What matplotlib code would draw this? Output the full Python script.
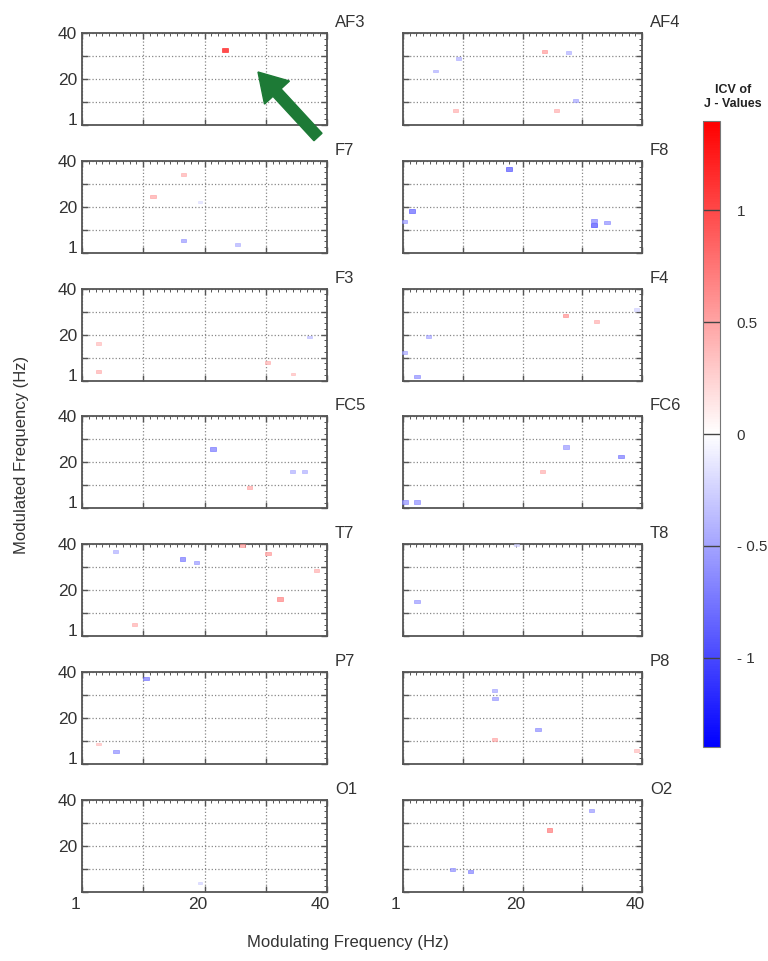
import numpy as np
import matplotlib
matplotlib.use('Agg')
import matplotlib.pyplot as plt
from matplotlib import colors, cm
from matplotlib.patches import FancyArrow
from matplotlib.transforms import ScaledTranslation, IdentityTransform

plt.rcParams['font.family'] = ['Liberation Sans', 'DejaVu Sans']

# channel layout: left column / right column, top to bottom
left_names = ['AF3', 'F7', 'F3', 'FC5', 'T7', 'P7', 'O1']
right_names = ['AF4', 'F8', 'F4', 'FC6', 'T8', 'P8', 'O2']

# marks per channel: (modulating freq, modulated freq, ICV of J-value)
AF3 = [(23.8, 32.7, 1.15)]
AF4 = [(10.1, 29.1, -0.35), (6.3, 23.9, -0.35), (24.1, 32.3, 0.45), (28.0, 31.6, -0.35),
       (9.5, 7.0, 0.35), (26.1, 7.0, 0.35), (29.1, 11.2, -0.4)]
F7 = [(17.1, 34.3, 0.35), (12.3, 24.8, 0.4), (19.8, 22.5, -0.15), (17.1, 6.3, -0.45), (25.7, 4.5, -0.35)]
F8 = [(18.3, 36.5, -0.75), (2.4, 18.8, -0.7), (1.3, 14.1, -0.45), (32.2, 14.8, -0.55),
      (32.2, 12.9, -0.8), (34.3, 13.9, -0.5)]
F3 = [(3.6, 16.7, 0.3), (3.6, 4.7, 0.35), (30.5, 8.8, 0.35), (34.6, 3.8, 0.3), (37.2, 19.5, -0.3)]
F4 = [(27.5, 28.6, 0.5), (32.5, 26.2, 0.35), (5.1, 19.5, -0.4), (1.3, 13.0, -0.4),
      (3.3, 2.8, -0.5), (39.1, 31.1, -0.2)]
FC5 = [(21.9, 26.2, -0.6), (27.6, 10.0, 0.4), (34.5, 16.5, -0.35), (36.4, 16.5, -0.35)]
FC6 = [(27.6, 27.0, -0.45), (36.6, 23.1, -0.6), (23.8, 16.5, 0.35), (1.3, 3.7, -0.5), (3.3, 3.7, -0.5)]
T7 = [(6.4, 36.9, -0.35), (17.0, 33.7, -0.6), (19.2, 32.2, -0.45), (26.6, 39.3, 0.45),
      (30.6, 36.1, 0.45), (38.3, 28.7, 0.35), (32.5, 16.8, 0.55), (9.3, 5.8, 0.35)]
T8 = [(3.3, 15.6, -0.45), (19.5, 39.6, -0.2)]
P7 = [(11.2, 37.2, -0.6), (3.6, 9.5, 0.3), (6.4, 6.4, -0.5)]
P8 = [(16.0, 32.1, -0.4), (16.0, 28.6, -0.45), (23.0, 15.5, -0.5), (16.0, 11.3, 0.4), (39.1, 6.7, 0.3)]
O1 = [(19.8, 4.8, -0.2)]
O2 = [(24.9, 27.2, 0.6), (31.8, 35.3, -0.45), (9.1, 10.5, -0.5), (12.0, 9.5, -0.55)]

marks = {'AF3': AF3, 'AF4': AF4, 'F7': F7, 'F8': F8, 'F3': F3, 'F4': F4, 'FC5': FC5,
         'FC6': FC6, 'T7': T7, 'T8': T8, 'P7': P7, 'P8': P8, 'O1': O1, 'O2': O2}

cbar_ticks = [-1, -0.5, 0, 0.5, 1]
cbar_labels = ['- 1', '- 0.5', '0', '0.5', '1']
freq_ticks = ['1', '', '20', '', '40']

W, H = 768, 961
fig = plt.figure(figsize=(W / 100, H / 100), dpi=100)

def add_ax(px_left, px_top, pw, ph):
    return fig.add_axes([px_left / W, 1 - (px_top + ph) / H, pw / W, ph / H])

cmap = plt.get_cmap('bwr')
norm = colors.Normalize(vmin=-1.4, vmax=1.4)
rect = [(-1, -0.6), (1, -0.6), (1, 0.6), (-1, 0.6), (-1, -0.6)]
txt_col = '#333333'

col_left = [82, 403]
col_w = [245, 239]
row_h = 92
major = np.linspace(1, 40, 5)

for c, names in enumerate([left_names, right_names]):
    for r, name in enumerate(names):
        top = 33 + 127.8 * r
        ax = add_ax(col_left[c], top, col_w[c], row_h)
        ax.set_xlim(1, 40)
        ax.set_ylim(1, 40)
        ax.set_xticks(major)
        ax.set_yticks(major)
        ax.set_xticks(np.linspace(1, 40, 37), minor=True)
        ax.set_yticks(np.linspace(1, 40, 17), minor=True)
        ax.grid(True, which='major', linestyle=':', color='#888888', lw=0.9)
        ax.tick_params(which='both', direction='in', top=True, right=True,
                       color='#555555', labelcolor=txt_col, labelsize=12.5)
        ax.tick_params(which='major', length=4, width=1)
        ax.tick_params(which='minor', length=2, width=0.7, bottom=False, left=False)
        for s in ax.spines.values():
            s.set_color('#555555')
            s.set_linewidth(1.3)

        # y labels only on the left column
        if c == 0:
            ylabs = list(freq_ticks)
            if r == 6:
                ylabs[0] = ''
            ax.set_yticklabels(ylabs)
            lab1 = ax.get_yticklabels()[0]
            lab1.set_transform(lab1.get_transform() + ScaledTranslation(0, 6 / 100, fig.dpi_scale_trans))
        else:
            ax.set_yticklabels([])
        if r == 6:
            ax.set_xticklabels(freq_ticks)
            for lab in ax.get_xticklabels():
                lab.set_transform(lab.get_transform() + ScaledTranslation(-7 / 100, 0, fig.dpi_scale_trans))
        else:
            ax.set_xticklabels([])

        pts = np.array(marks[name])
        xs, ys, vs = pts[:, 0], pts[:, 1], pts[:, 2]
        edge = cmap(norm(np.clip(vs * 1.5, -1.4, 1.4)))
        ax.scatter(xs, ys, c=vs, cmap=cmap, norm=norm, marker=rect,
                   s=7 + 16 * np.abs(vs), edgecolors=edge, linewidths=0.4,
                   alpha=0.85, zorder=3, clip_on=False)

        fig.text((col_left[c] + col_w[c] + 8) / W, 1 - (top - 3) / H, name,
                 ha='left', va='bottom', fontsize=12, color=txt_col)

# colorbar
cax = add_ax(703, 121, 17, 626)
sm = cm.ScalarMappable(norm=norm, cmap=cmap)
cb = fig.colorbar(sm, cax=cax, ticks=cbar_ticks)
cb.ax.set_yticklabels(cbar_labels)
cb.ax.tick_params(length=0, pad=12, labelsize=11, labelcolor=txt_col)
cb.outline.set_edgecolor('#777777')
cb.outline.set_linewidth(0.8)
for t in cbar_ticks:
    cax.axhline(t, color='#444444', lw=1)
fig.text(733 / W, 1 - 97 / H, 'ICV of\nJ - Values', ha='center', va='center',
         fontsize=9, fontweight='bold', color='#222222', linespacing=1.3)

fig.text(22 / W, 1 - 455 / H, 'Modulated Frequency (Hz)', rotation=90,
         ha='center', va='center', fontsize=12, color=txt_col)
fig.text(348 / W, 1 - 943 / H, 'Modulating Frequency (Hz)',
         ha='center', va='center', fontsize=12, color=txt_col)

# green arrow pointing at the AF3 mark
arrow = FancyArrow(318, H - 137, -60, 65, width=11, head_width=34, head_length=28,
                   length_includes_head=True, color='#1d7a36', transform=IdentityTransform(),
                   zorder=10)
fig.add_artist(arrow)

fig.savefig('out.png', dpi=100, facecolor='white')
